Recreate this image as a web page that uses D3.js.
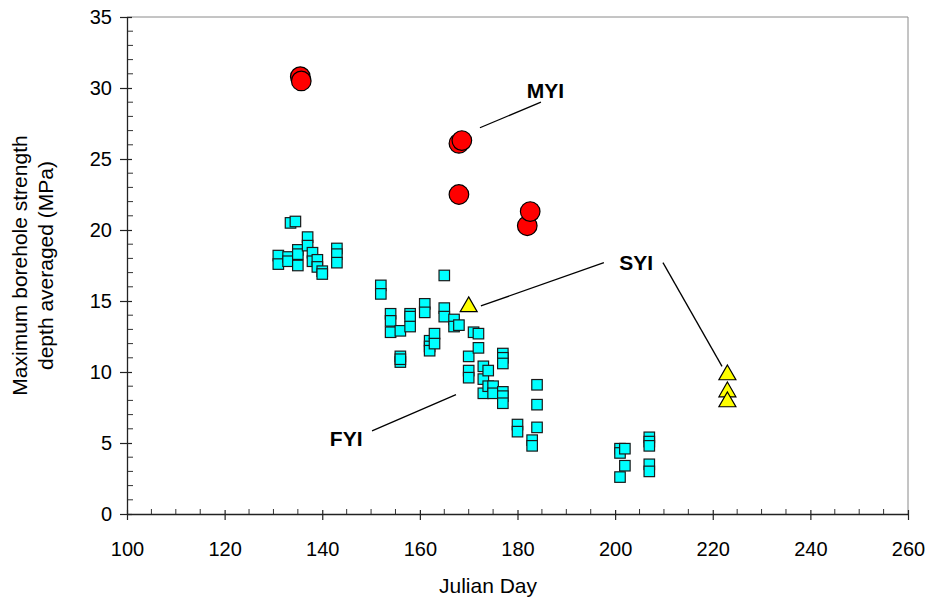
<!DOCTYPE html>
<html><head><meta charset="utf-8">
<script src="https://cdn.jsdelivr.net/npm/d3@7"></script>
<style>body{margin:0;background:#fff}text{font-family:"Liberation Sans",Arial,sans-serif}</style>
</head><body><svg id="c" width="930" height="599"></svg>
<script>
const xTicks = [100,120,140,160,180,200,220,240,260];
const yTicks = [0,5,10,15,20,25,30,35];
// FYI (first-year ice) – cyan squares: [day, MPa]
const fyiDay = [131,131,133,133,133.5,134.5,135,135,135,137,137,138,138,139,139,140,140,143,143,143,
  152,152,154,154,154,156,156,156,156,158,158,158,161,161,162,162,162,163,163,165,165,165,167,167,168,
  170,170,170,171,172,172,173,173,173,174,174,175,175,177,177,177,177,177,177,180,180,183,183,184,184,184,
  201,201,201,202,202,207,207,207,207,207];
const fyiVal = [18.2,17.6,18.1,17.8,20.5,20.6,18.6,18.3,17.5,19.5,18.9,18.4,17.8,17.9,17.4,17.1,16.9,18.7,18.3,17.7,
  16.1,15.5,14.1,13.6,12.8,12.9,11.1,10.7,10.9,14.1,13.9,13.2,14.8,14.2,12.2,11.8,11.5,12.7,12.0,16.8,14.5,13.9,13.7,13.2,13.3,
  11.1,10.1,9.6,12.8,12.7,11.7,10.4,9.5,8.5,10.1,9.0,9.0,8.5,11.3,11.0,10.6,8.6,8.3,7.8,6.3,5.8,5.2,4.8,9.1,7.7,6.1,
  4.6,4.3,2.6,4.6,3.4,5.4,5.1,4.8,3.5,3.0];
// MYI (multi-year ice) – red circles
const myiDay = [135.5,135.7,168,168.6,168,182,182.6];
const myiVal = [30.8,30.5,26.1,26.3,22.5,20.3,21.3];
// SYI (second-year ice) – yellow triangles
const syiDay = [170,223,223,223];
const syiVal = [14.6,9.8,8.6,7.9];
// annotation labels & leader lines in data units
const labelText = ["MYI","SYI","FYI"];
const labelDay = [185.7,204.3,144.9];
const labelVal = [29.3,17.15,4.8];
const leaderLines = [
  [[172.3,27.2],[184.8,29.0]],
  [[172.5,14.65],[197.7,17.7]],
  [[209.8,17.7],[221.9,10.4]],
  [[150.2,5.85],[167.4,8.4]]
];

const svg = d3.select("#c");
const L=127,R=908,T=17,B=514;
const x = d3.scaleLinear().domain([100,260]).range([L,R]);
const y = d3.scaleLinear().domain([0,35]).range([B,T]);
const FONT="'Liberation Sans',Arial,sans-serif";

// frame
svg.append("line").attr("x1",L).attr("x2",R).attr("y1",T).attr("y2",T).attr("stroke","#8a8a8a").attr("stroke-width",1);
svg.append("line").attr("x1",R).attr("x2",R).attr("y1",T).attr("y2",B).attr("stroke","#8a8a8a").attr("stroke-width",1);

// minor ticks
const gMinor = svg.append("g").attr("stroke","#333").attr("stroke-width",1);
d3.range(105,260,5).filter(v=>v%20!==0).forEach(v=>{
  gMinor.append("line").attr("x1",x(v)).attr("x2",x(v)).attr("y1",B).attr("y2",B-5);
});
d3.range(1,35,1).filter(v=>v%5!==0).forEach(v=>{
  gMinor.append("line").attr("x1",L).attr("x2",L+6).attr("y1",y(v)).attr("y2",y(v));
});

// axes
const xAxis = svg.append("g").attr("transform",`translate(0,${B})`)
  .call(d3.axisBottom(x).tickValues(xTicks).tickSize(6).tickSizeOuter(0).tickPadding(22));
xAxis.selectAll(".tick line").clone().attr("y2",-4);
const yAxis = svg.append("g").attr("transform",`translate(${L},0)`)
  .call(d3.axisLeft(y).tickValues(yTicks).tickSize(7).tickSizeOuter(0).tickPadding(8));
yAxis.selectAll(".tick line").clone().attr("x2",5);
svg.selectAll(".domain").attr("stroke","#222").attr("stroke-width",1.3);
svg.selectAll(".tick line").attr("stroke","#222").attr("stroke-width",1.2);
svg.selectAll(".tick text").attr("font-size","20px").attr("fill","#000").style("font-family",FONT);

// axis titles
svg.append("text").attr("x",488).attr("y",593).attr("text-anchor","middle")
  .attr("font-size","21px").text("Julian Day");
const yt = svg.append("text").attr("transform",`translate(27,${(T+B)/2}) rotate(-90)`)
  .attr("text-anchor","middle").attr("font-size","21px");
yt.append("tspan").attr("x",0).attr("dy",0).text("Maximum borehole strength");
yt.append("tspan").attr("x",0).attr("dy",26).text("depth averaged (MPa)");

// leader lines
svg.append("g").selectAll("line").data(leaderLines).join("line")
  .attr("x1",d=>x(d[0][0])).attr("y1",d=>y(d[0][1]))
  .attr("x2",d=>x(d[1][0])).attr("y2",d=>y(d[1][1]))
  .attr("stroke","#000").attr("stroke-width",1.3);
svg.append("g").selectAll("text").data(labelText).join("text")
  .attr("x",(d,i)=>x(labelDay[i])).attr("y",(d,i)=>y(labelVal[i]))
  .attr("text-anchor","middle").attr("font-size","21px").attr("font-weight","bold").text(d=>d);

// squares
const sq=10.5;
svg.append("g").selectAll("rect").data(fyiDay.map((d,i)=>[d,fyiVal[i]])).join("rect")
  .attr("x",d=>x(d[0])-sq/2).attr("y",d=>y(d[1])-sq/2).attr("width",sq).attr("height",sq)
  .attr("fill","#00ffff").attr("stroke","#1a1a1a").attr("stroke-width",1.2);
// circles
svg.append("g").selectAll("circle").data(myiDay.map((d,i)=>[d,myiVal[i]])).join("circle")
  .attr("cx",d=>x(d[0])).attr("cy",d=>y(d[1])).attr("r",9.8)
  .attr("fill","#ff0000").attr("stroke","#000").attr("stroke-width",1.2);
// triangles
const tri = d3.symbol().type(d3.symbolTriangle).size(125);
svg.append("g").selectAll("path").data(syiDay.map((d,i)=>[d,syiVal[i]])).join("path")
  .attr("d",tri).attr("transform",d=>`translate(${x(d[0])},${y(d[1])})`)
  .attr("fill","#ffff00").attr("stroke","#000").attr("stroke-width",1.2);
</script></body></html>
